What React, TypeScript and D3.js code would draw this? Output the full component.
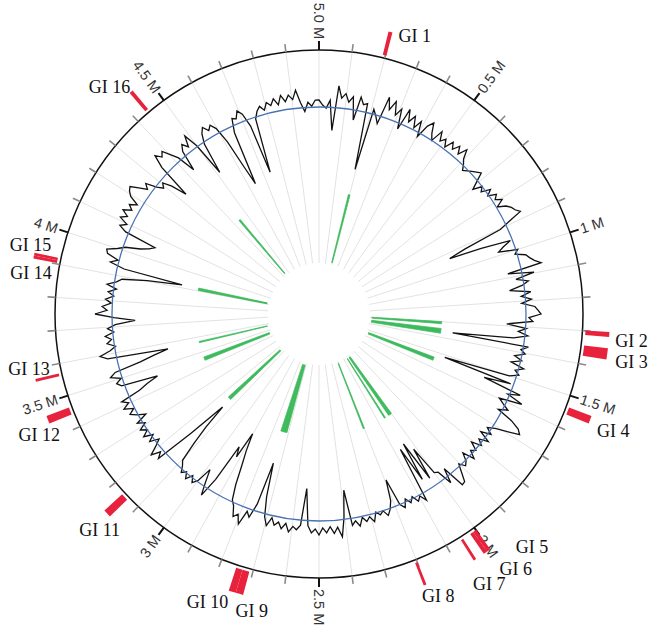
import React, { useEffect, useRef } from "react";
import * as d3 from "d3";

// genome length in Mb, ticks every 0.5 Mb (minor every 0.1 Mb)
const genomeSize = 5.0;
const majorTickPos = [0.5, 1, 1.5, 2, 2.5, 3, 3.5, 4, 4.5, 5.0];
const majorTickLabels = ["0.5 M", "1 M", "1.5 M", "2 M", "2.5 M", "3 M", "3.5 M", "4 M", "4.5 M", "5.0 M"];

// genomic islands (Mb)
const giNames = ["GI 1", "GI 2", "GI 3", "GI 4", "GI 5", "GI 6", "GI 7", "GI 8",
  "GI 9", "GI 10", "GI 11", "GI 12", "GI 13", "GI 14", "GI 15", "GI 16"];
const giStart = [0.192, 1.299, 1.344, 1.535, 1.999, 2.010, 2.046, 2.199,
  2.710, 2.731, 3.138, 3.443, 3.563, 3.903, 3.911, 4.436];
const giEnd = [0.203, 1.313, 1.375, 1.557, 2.010, 2.021, 2.054, 2.207,
  2.731, 2.751, 3.160, 3.465, 3.571, 3.911, 3.919, 4.447];

// sliding window values (deviation from mean), one window per 1/360 of genome
const gcValues = [
  7, 2, -1, 7, -23, 22, 10, 15, 7, 13,
  -10, 14, 7, 9, -58, 5, -1, -8, 21, 9,
  19, 6, 14, -6, 17, 5, 13, 2, 11, -4,
  10, 16, 6, 0, 13, 4, 9, 2, 11, 5,
  12, 5, 14, 5, 1, -4, -1, 2, 5, 8,
  -1, -9, 0, -4, 5, -1, 7, 3, 9, 1,
  9, 13, 15, 19, 5, -7, -47, -65, -32, -2,
  -11, -17, 2, -2, 8, 11, 15, 21, -14, 12,
  -7, 5, -2, -15, 6, -4, 6, -4, 9, 12,
  15, 3, 7, -19, 1, -7, 3, -11, -72, 5,
  -2, 3, -7, 1, -9, 5, -3, 2, -7, -74,
  -3, -30, 10, -2, 15, -8, -2, 5, -4, 13,
  23, 27, 15, 3, -4, 3, -7, 5, -4, 2,
  -8, 1, -3, 5, -7, 1, 4, -2, 6, 15,
  16, -8, 7, -9, -11, -42, -9, -52, -12, -49,
  8, 1, 5, -2, 3, -3, 5, 0, -28, -7,
  1, 6, 0, 3, -1, 8, 2, 6, 1, 9,
  3, 7, -29, -2, 17, 7, 13, 6, 12, 7,
  14, 8, 12, 5, -32, 5, 10, 7, 13, 5,
  11, 5, 9, 2, 11, 3, -17, -51, -7, 8,
  3, 18, 9, 13, 3, -2, -17, -37, -52, -70,
  -42, -52, -12, 9, -4, -17, -1, 4, -2, 5,
  -1, 3, -3, -7, -27, -47, -73, -32, 9, 3,
  12, 3, -4, 5, -2, 7, 0, 6, -2, 5,
  -7, 1, 7, 1, 10, 3, 9, -12, -22, -34,
  3, 7, 1, 11, 5, -22, -37, -52, 9, 16,
  5, -1, 7, 2, 8, -1, 5, -3, -23, -2,
  17, 5, 10, 1, 7, -1, 5, -3, 7, -2,
  -7, -32, -67, -7, 8, 1, 13, 15, 5, -2,
  -17, -25, -30, 3, 11, 5, 14, 8, 15, 7,
  12, 5, 15, 19, 21, 13, 5, 10, -1, -7,
  -3, -12, -28, 8, 21, 15, 19, 11, 3, -16,
  5, 11, 5, 16, 1, -34, -2, 8, 13, 7,
  11, 5, -12, -42, -62, -7, 7, 5, 12, 7,
  -7, -57, -2, 5, 9, 4, 11, 7, 13, 6,
  15, 8, 14, 9, 18, 5, -4, 5, 1, 7,
];

// where each GI label sits relative to the outer end of its bar: [dx, dy, anchor]
const giLabelOffset: [number, number, string][] = [
  [8, 10, "start"], [6, 13, "start"], [8, 14, "start"], [7, 17, "start"],
  [27, 3, "start"], [14, 22, "start"], [-2, 30, "start"], [-3, 17, "start"],
  [-4, 23, "start"], [-4, 16, "end"], [13, 23, "end"], [12, 21, "end"],
  [14, -5, "end"], [18, 22, "end"], [17, -3, "end"], [-1, 1, "end"],
];

function App() {
  const ref = useRef<SVGSVGElement>(null);
  const width = 657;
  const height = 632;
  const cx = 319;
  const cy = 314;
  const R = 264;

  useEffect(() => {
    const svg = d3.select(ref.current);
    svg.selectAll("*").remove();
    const g = svg.append("g").attr("transform", `translate(${cx},${cy})`);

    const angle = d3.scaleLinear().domain([0, genomeSize]).range([0, 2 * Math.PI]);
    const rGc = d3.scaleLinear().domain([-100, 0]).range([107, 207]);
    const px = (a: number, r: number) => r * Math.sin(a);
    const py = (a: number, r: number) => -r * Math.cos(a);

    // radial grid
    const fine = angle.ticks(50).filter(d => d < genomeSize);
    g.append("g").selectAll("line")
      .data(fine)
      .join("line")
      .attr("x1", d => px(angle(d), 51))
      .attr("y1", d => py(angle(d), 51))
      .attr("x2", d => px(angle(d), R))
      .attr("y2", d => py(angle(d), R))
      .attr("stroke", "#dadada")
      .attr("stroke-width", 0.8);

    // sliding window line
    const win = genomeSize / gcValues.length;
    const line = d3.lineRadial<number>()
      .angle((d, i) => angle(i * win))
      .radius(d => rGc(d))
      .curve(d3.curveLinearClosed);
    g.append("path")
      .attr("d", line(gcValues))
      .attr("fill", "none")
      .attr("stroke", "#111")
      .attr("stroke-width", 1.3)
      .attr("stroke-linejoin", "miter");

    // baseline
    g.append("circle")
      .attr("r", rGc(0))
      .attr("fill", "none")
      .attr("stroke", "#4a72b2")
      .attr("stroke-width", 1.3);

    // inner green bars (one per GI)
    const innerArc = d3.arc<number>()
      .innerRadius(53)
      .outerRadius(123)
      .startAngle(i => angle(giStart[i]))
      .endAngle(i => angle(giEnd[i]));
    g.append("g").selectAll("path")
      .data(giNames.map((_, i) => i))
      .join("path")
      .attr("d", innerArc)
      .attr("fill", "#3dba5c")
      .attr("stroke", "#3dba5c")
      .attr("stroke-width", 0.7);

    // outer circle + ticks
    g.append("circle")
      .attr("r", R)
      .attr("fill", "none")
      .attr("stroke", "#111")
      .attr("stroke-width", 1.5);

    const minor = fine.filter(d => Math.abs(d * 2 - Math.round(d * 2)) > 1e-6);
    g.append("g").selectAll("line")
      .data(minor)
      .join("line")
      .attr("x1", d => px(angle(d), R))
      .attr("y1", d => py(angle(d), R))
      .attr("x2", d => px(angle(d), R + 8))
      .attr("y2", d => py(angle(d), R + 8))
      .attr("stroke", "#8a8a8a")
      .attr("stroke-width", 1.6);

    g.append("g").selectAll("line")
      .data(majorTickPos)
      .join("line")
      .attr("x1", d => px(angle(d), R))
      .attr("y1", d => py(angle(d), R))
      .attr("x2", d => px(angle(d), R + 9))
      .attr("y2", d => py(angle(d), R + 9))
      .attr("stroke", "#111")
      .attr("stroke-width", 2);

    g.append("g").selectAll("text")
      .data(majorTickPos)
      .join("text")
      .attr("transform", d => {
        const a = angle(d);
        const deg = (a * 180) / Math.PI;
        const rot = deg <= 180 ? deg - 90 : deg - 270;
        return `translate(${px(a, R + 11)},${py(a, R + 11)}) rotate(${rot})`;
      })
      .attr("text-anchor", d => ((angle(d) * 180) / Math.PI <= 180 ? "start" : "end"))
      .attr("dy", "0.35em")
      .attr("font-family", "'Liberation Sans', Arial, sans-serif")
      .attr("font-size", 14.5)
      .attr("fill", "#333")
      .text((d, i) => majorTickLabels[i]);

    // outer red GI bars
    const outerArc = d3.arc<number>()
      .innerRadius(267)
      .outerRadius(291)
      .startAngle(i => angle(giStart[i]))
      .endAngle(i => angle(giEnd[i]));
    g.append("g").selectAll("path")
      .data(giNames.map((_, i) => i))
      .join("path")
      .attr("d", outerArc)
      .attr("fill", "#e8223c");

    g.append("g").selectAll("text")
      .data(giNames.map((_, i) => i))
      .join("text")
      .attr("x", i => px(angle((giStart[i] + giEnd[i]) / 2), 291) + giLabelOffset[i][0])
      .attr("y", i => py(angle((giStart[i] + giEnd[i]) / 2), 291) + giLabelOffset[i][1])
      .attr("text-anchor", i => giLabelOffset[i][2])
      .attr("font-family", "'Liberation Serif', 'Times New Roman', serif")
      .attr("font-size", 18)
      .attr("fill", "#111")
      .text(i => giNames[i]);
  }, []);

  return (
    <div style={{ position: "absolute", left: 0, top: 0 }}>
      <svg ref={ref} width={width} height={height} style={{ display: "block", background: "#fff" }} />
    </div>
  );
}

export default App;
